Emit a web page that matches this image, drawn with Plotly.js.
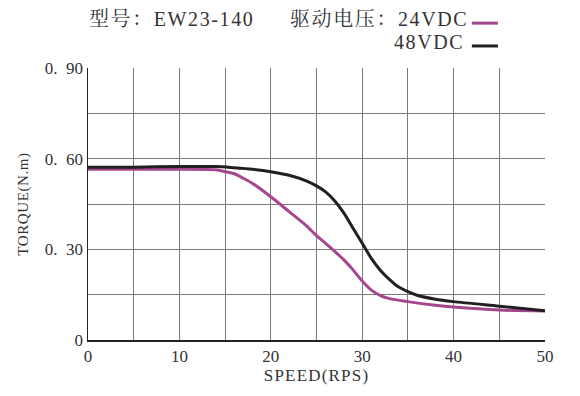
<!DOCTYPE html>
<html><head><meta charset="utf-8">
<script src="https://cdn.plot.ly/plotly-3.0.1.min.js"></script>
<style>
body{margin:0;background:#fff}
.annotation-text{letter-spacing:1.6px}
.xtitle{letter-spacing:1.2px}
.ytitle{letter-spacing:0.6px}
</style>
</head><body><div id="c" style="width:580px;height:396px"></div>
<script>
const speed24 = [0,5,10,14,15,16,17,18,20,22,24,25,26,27,28,29,30,31,32,33,35,38,40,45,50];
const torque24 = [0.565,0.565,0.565,0.563,0.557,0.550,0.535,0.518,0.474,0.425,0.375,0.345,0.320,0.293,0.265,0.232,0.195,0.165,0.147,0.137,0.127,0.115,0.109,0.099,0.096];
const speed48 = [0,5,10,14,16,18,20,22,24,25,26,27,28,29,30,31,32,33,34,35,36,38,40,45,50];
const torque48 = [0.572,0.572,0.574,0.574,0.570,0.565,0.557,0.545,0.525,0.510,0.490,0.460,0.420,0.370,0.320,0.270,0.230,0.200,0.175,0.160,0.148,0.135,0.127,0.112,0.097];
const yTickVals = [0,0.3,0.6,0.9];
const yTickText = ["0","0.\u00a0\u00a030","0.\u00a0\u00a060","0.\u00a0\u00a090"];
const xTickVals = [0,10,20,30,40,50];
const titleLeft = "型号：EW23-140";
const titleRight = "驱动电压：24VDC";
const legend2 = "48VDC";
const colors = {v24:"#A4478F", v48:"#231F20"};

const serif = "Liberation Serif, 'Noto Serif CJK SC', 'Noto Sans CJK SC', serif";
const txtCol = "#333";
const gridCol = "#7a7a7a";
const traces = [
  {x:speed24,y:torque24,mode:"lines",line:{color:colors.v24,width:3,shape:"spline",smoothing:0.8},showlegend:false},
  {x:speed48,y:torque48,mode:"lines",line:{color:colors.v48,width:3,shape:"spline",smoothing:0.8},showlegend:false}
];
const layout = {
  width:580,height:396,
  margin:{l:88,r:35,t:68,b:56},
  paper_bgcolor:"#fff",plot_bgcolor:"#fff",
  font:{family:serif,color:txtCol},
  xaxis:{range:[0,50],tickvals:xTickVals,ticktext:xTickVals.map(String),
    showgrid:true,gridcolor:gridCol,gridwidth:1,
    minor:{dtick:5,tick0:0,showgrid:true,gridcolor:gridCol,gridwidth:1},
    showline:true,linecolor:"#222",linewidth:1.5,zeroline:false,ticks:"",
    tickfont:{size:17,family:serif,color:txtCol},
    title:{text:"SPEED(RPS)",font:{size:17,family:serif,color:txtCol},standoff:0}},
  yaxis:{range:[0,0.9],tickvals:yTickVals,ticktext:yTickText,
    showgrid:true,gridcolor:gridCol,gridwidth:1,
    minor:{dtick:0.15,tick0:0,showgrid:true,gridcolor:gridCol,gridwidth:1},
    showline:true,linecolor:"#222",linewidth:1.5,zeroline:false,ticks:"",
    tickfont:{size:17,family:serif,color:txtCol},
    title:{text:"TORQUE(N.m)",font:{size:15,family:serif,color:txtCol},standoff:12}},
  annotations:[
    {xref:"paper",yref:"paper",x:-0.002,y:1.18,xanchor:"left",yanchor:"middle",showarrow:false,
     text:titleLeft,font:{size:20,family:serif,color:txtCol}},
    {xref:"paper",yref:"paper",x:0.4376,y:1.18,xanchor:"left",yanchor:"middle",showarrow:false,
     text:titleRight,font:{size:20,family:serif,color:txtCol}},
    {xref:"paper",yref:"paper",x:0.827,y:1.095,xanchor:"right",yanchor:"middle",showarrow:false,
     text:legend2,font:{size:20,family:serif,color:txtCol}}
  ],
  shapes:[
    {type:"line",xref:"paper",yref:"paper",x0:0.840,x1:0.897,y0:1.165,y1:1.165,line:{color:colors.v24,width:3}},
    {type:"line",xref:"paper",yref:"paper",x0:0.840,x1:0.897,y0:1.081,y1:1.081,line:{color:colors.v48,width:3}}
  ]
};
Plotly.newPlot("c",traces,layout,{displayModeBar:false,staticPlot:true});
</script></body></html>
